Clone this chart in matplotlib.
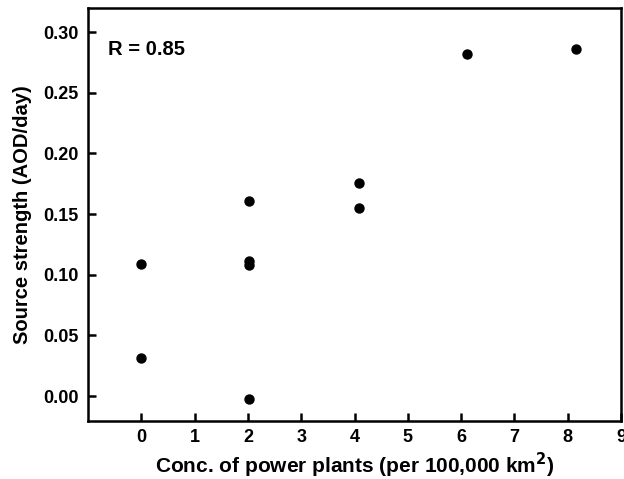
import matplotlib
matplotlib.use("Agg")
import matplotlib.pyplot as plt

# conc. of power plants vs source strength
conc = [0.0, 0.0, 2.03, 2.03, 2.03, 2.03, 4.08, 4.08, 6.12, 8.16]
strength = [0.109, 0.031, -0.002, 0.161, 0.111, 0.108, 0.176, 0.155, 0.282, 0.286]

x_ticks = list(range(0, 10))
y_ticks = [0.00, 0.05, 0.10, 0.15, 0.20, 0.25, 0.30]

plt.rcParams['font.family'] = ['Liberation Sans', 'DejaVu Sans']
plt.rcParams['font.weight'] = 'bold'
plt.rcParams['mathtext.default'] = 'bf'

fig = plt.figure(figsize=(6.24, 4.79), dpi=100)
ax = fig.add_axes([88 / 624, 1 - 421 / 479, (621 - 88) / 624, (421 - 8) / 479])

ax.scatter(conc, strength, s=42, color='black', zorder=3)

ax.set_xlim(-1, 9)
ax.set_ylim(-0.0205, 0.3198)
ax.set_xticks(x_ticks)
ax.set_yticks(y_ticks)
ax.set_xticklabels([str(t) for t in x_ticks])
ax.set_yticklabels(["{:.2f}".format(t) for t in y_ticks])
ax.tick_params(axis='both', direction='in', length=6, width=1.8, labelsize=13)
ax.tick_params(axis='x', pad=6)
ax.tick_params(axis='y', pad=7)

for s in ax.spines.values():
    s.set_linewidth(1.8)

ax.set_xlabel("Conc. of power plants (per 100,000 km$^{2}$)", fontsize=15, fontweight='bold', labelpad=3)
ax.set_ylabel("Source strength (AOD/day)", fontsize=14.5, fontweight='bold', labelpad=8)

ax.text(0.037, 0.9, "R = 0.85", transform=ax.transAxes, fontsize=14.5, fontweight='bold', va='center')

fig.savefig("out.png", dpi=100)
